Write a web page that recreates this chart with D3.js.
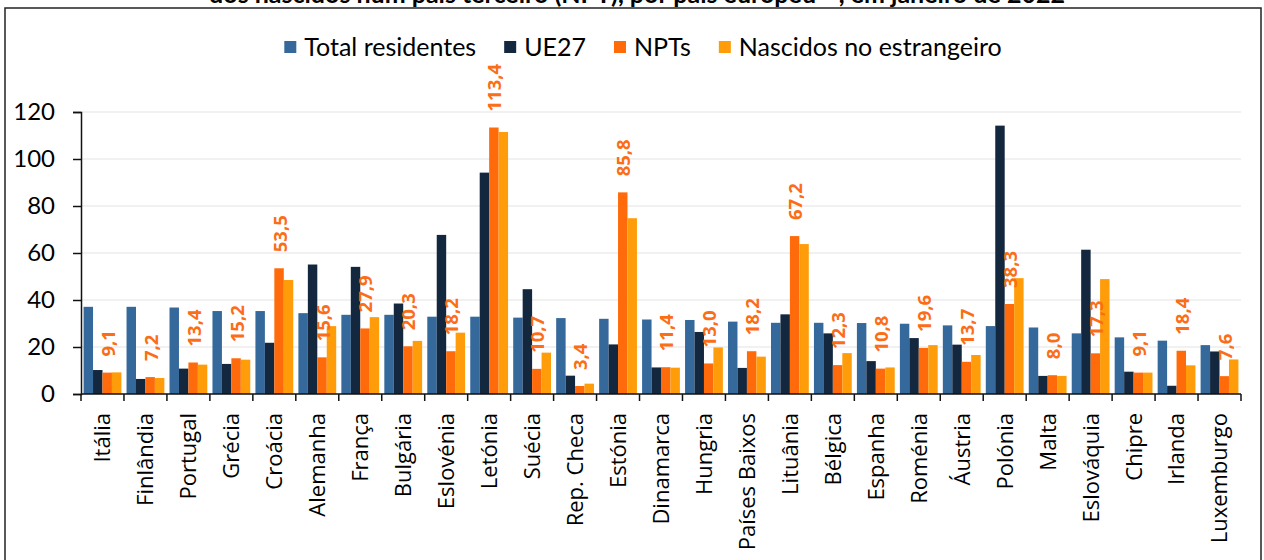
<!DOCTYPE html>
<html>
<head>
<meta charset="utf-8">
<script src="https://cdn.jsdelivr.net/npm/d3@7"></script>
<style>
  html, body { margin: 0; padding: 0; background: #fff; }
  svg { display: block; }
</style>
</head>
<body>
<div id="chart"></div>
<script>
const countries = ['Itália', 'Finlândia', 'Portugal', 'Grécia', 'Croácia', 'Alemanha', 'França', 'Bulgária',
  'Eslovénia', 'Letónia', 'Suécia', 'Rep. Checa', 'Estónia', 'Dinamarca', 'Hungria', 'Países Baixos',
  'Lituânia', 'Bélgica', 'Espanha', 'Roménia', 'Áustria', 'Polónia', 'Malta', 'Eslováquia', 'Chipre',
  'Irlanda', 'Luxemburgo']

const totalResidentes = [37.1, 37.1, 36.8, 35.3, 35.3, 34.4, 33.7, 33.7, 32.9, 32.9, 32.5, 32.3, 32.0, 31.7,
  31.5, 30.8, 30.3, 30.3, 30.2, 29.9, 29.2, 28.9, 28.3, 25.8, 24.1, 22.7, 20.8]
const ue27 = [10.2, 6.4, 10.8, 12.8, 21.8, 55.1, 54.1, 38.5, 67.7, 94.2, 44.6, 7.8, 21.1, 11.3, 26.4, 11.1,
  33.9, 25.8, 14.0, 23.8, 21.0, 114.2, 7.7, 61.4, 9.5, 3.5, 18.1]
const npts = [9.1, 7.2, 13.4, 15.2, 53.5, 15.6, 27.9, 20.3, 18.2, 113.4, 10.7, 3.4, 85.8, 11.4, 13.0, 18.2,
  67.2, 12.3, 10.8, 19.6, 13.7, 38.3, 8.0, 17.3, 9.1, 18.4, 7.6]
const nascidos = [9.2, 6.8, 12.5, 14.6, 48.5, 28.9, 32.7, 22.6, 26.1, 111.5, 17.6, 4.4, 74.8, 11.2, 19.8, 15.9,
  63.8, 17.4, 11.3, 20.8, 16.6, 49.3, 7.7, 48.9, 9.1, 12.2, 14.7]

const seriesNames = ['Total residentes', 'UE27', 'NPTs', 'Nascidos no estrangeiro']
const seriesColors = ['#35689b', '#13273f', '#ff6a0a', '#ff9c0a']
const yTicks = [0, 20, 40, 60, 80, 100, 120]

const W = 1264, H = 560
const plotLeft = 81, plotRight = 1241, plotTop = 112, plotBottom = 394

const svg = d3.select('#chart').append('svg').attr('width', W).attr('height', H)

// title line (its top is cut off by the page edge, as in the source image) and outer frame
svg.append('text')
  .attr('x', 637).attr('y', 3)
  .attr('text-anchor', 'middle')
  .style('font-family', 'Lato, sans-serif').style('font-weight', 'bold').style('font-size', '25px')
  .text('dos nascidos num país terceiro (NPT), por país europeu ⁽¹⁾, em janeiro de 2022')

svg.append('rect')
  .attr('x', 5).attr('y', 8).attr('width', 1256).attr('height', 600)
  .attr('fill', 'none').attr('stroke', '#222').attr('stroke-width', 1.5)

const table = countries.map((c, i) => ({
  country: c,
  values: [totalResidentes[i], ue27[i], npts[i], nascidos[i]]
}))

const x0 = d3.scaleBand().domain(countries).range([plotLeft, plotRight]).paddingInner(0.12).paddingOuter(0.06)
const x1 = d3.scaleBand().domain(d3.range(4)).range([0, x0.bandwidth()])
const y = d3.scaleLinear().domain([0, 120]).range([plotBottom, plotTop])

// gridlines
svg.append('g').selectAll('line').data(yTicks.slice(1)).join('line')
  .attr('x1', plotLeft).attr('x2', plotRight)
  .attr('y1', d => y(d)).attr('y2', d => y(d))
  .attr('stroke', '#ececec').attr('stroke-width', 1.5)

// bars
const groups = svg.append('g').selectAll('g').data(table).join('g')
  .attr('transform', d => `translate(${x0(d.country)},0)`)
groups.selectAll('rect').data(d => d.values).join('rect')
  .attr('x', (d, i) => x1(i))
  .attr('width', x1.bandwidth())
  .attr('y', d => y(d))
  .attr('height', d => plotBottom - y(d))
  .attr('fill', (d, i) => seriesColors[i])

// value labels for NPTs
svg.append('g').selectAll('text').data(table).join('text')
  .attr('transform', d => `translate(${x0(d.country) + x1(2) + x1.bandwidth() / 2 + 1},${y(d.values[2]) - 16}) rotate(-90)`)
  .attr('dy', '0.35em')
  .attr('fill', '#fb6d16')
  .style('font-family', '"Open Sans", sans-serif').style('font-weight', 'bold').style('font-size', '18.5px')
  .text(d => d3.format('.1f')(d.values[2]).replace('.', ','))

// y axis
const yAxis = svg.append('g')
  .attr('transform', `translate(${plotLeft},0)`)
  .call(d3.axisLeft(y).tickValues(yTicks).tickSize(8).tickPadding(18).tickFormat(d3.format('d')))
yAxis.selectAll('path, line').attr('stroke', '#111').attr('stroke-width', 1.5)
yAxis.selectAll('text')
  .attr('fill', '#000')
  .style('font-family', 'Lato, sans-serif').style('font-size', '24px')

// x axis: ticks on group boundaries
const xAxis = svg.append('g').attr('transform', `translate(0,${plotBottom})`)
xAxis.append('line').attr('x1', plotLeft).attr('x2', plotRight).attr('stroke', '#111').attr('stroke-width', 1.5)
const step = x0.step()
xAxis.selectAll('line.tick').data(d3.range(countries.length + 1)).join('line')
  .attr('class', 'tick')
  .attr('x1', i => plotLeft + i * step).attr('x2', i => plotLeft + i * step)
  .attr('y1', 0).attr('y2', 7)
  .attr('stroke', '#111').attr('stroke-width', 1.5)
xAxis.selectAll('text').data(countries).join('text')
  .attr('transform', d => `translate(${x0(d) + x0.bandwidth() / 2},19) rotate(-90)`)
  .attr('text-anchor', 'end')
  .attr('dy', '0.36em')
  .attr('fill', '#000')
  .style('font-family', '"Open Sans", sans-serif').style('font-size', '22px')
  .text(d => d)

// legend
const legend = svg.append('g')
const items = legend.selectAll('g').data(seriesNames).join('g')
items.append('rect').attr('width', 12).attr('height', 12).attr('y', 41)
  .attr('fill', (d, i) => seriesColors[i])
items.append('text').attr('x', 20).attr('y', 47).attr('dy', '0.35em')
  .style('font-family', 'Lato, sans-serif').style('font-size', '25px').attr('fill', '#000')
  .text(d => d)
const widths = []
items.each(function () {
  widths.push(20 + this.querySelector('text').getComputedTextLength())
})
const gap = 28
const totalW = d3.sum(widths) + gap * (widths.length - 1)
let pos = 643 - totalW / 2
items.attr('transform', (d, i) => {
  const t = `translate(${pos},0)`
  pos += widths[i] + gap
  return t
})
</script>
</body>
</html>
